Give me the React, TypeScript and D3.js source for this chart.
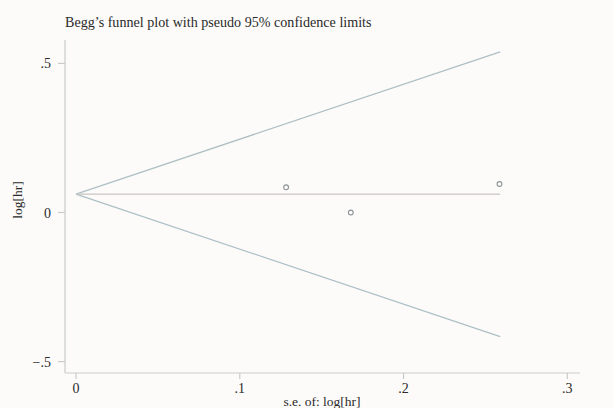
import React from "react";
import * as d3 from "d3";

const title = "Begg\u2019s funnel plot with pseudo 95% confidence limits";
const xTicks = [0, 0.1, 0.2, 0.3];
const xTickLabels = ["0", ".1", ".2", ".3"];
const yTicks = [0.5, 0, -0.5];
const yTickLabels = [".5", "0", "\u2212.5"];
const studySE = [0.1283, 0.1678, 0.2586];
const studyLogHR = [0.0845, 0.0, 0.0955];
const pooledLogHR = 0.0615;
const funnelSE = [0, 0.259];
const funnelUpper = [0.0615, 0.539];
const funnelLower = [0.0615, -0.416];

export default function App() {
  const x = d3.scaleLinear().domain([0, 0.3]).range([76, 567.3]);
  const y = d3.scaleLinear().domain([-0.5, 0.5]).range([361.6, 63.4]);
  const line = d3
    .line<[number, number]>()
    .x((d) => x(d[0]))
    .y((d) => y(d[1]));
  const upper = funnelSE.map((s, i) => [s, funnelUpper[i]] as [number, number]);
  const lower = funnelSE.map((s, i) => [s, funnelLower[i]] as [number, number]);
  const mid = funnelSE.map((s) => [s, pooledLogHR] as [number, number]);
  const axisColor = "#c9cbcb";
  const lineColor = "#aebfc6";
  const font = "'Liberation Serif', 'DejaVu Serif', serif";
  const textColor = "#2a2a2a";
  const axisY = 373;
  const axisX = 65;
  return (
    <svg
      width={613}
      height={408}
      style={{ position: "absolute", left: 0, top: 0, background: "#fcfbf9" }}
      fontFamily={font}
    >
      <rect x={0} y={0} width={613} height={408} fill="#fcfbf9" />
      <text x={65} y={27} fontSize={14.1} fill={textColor}>
        {title}
      </text>
      {/* axes */}
      <line x1={axisX} x2={axisX} y1={40} y2={axisY} stroke={axisColor} strokeWidth={1.2} />
      <line x1={axisX} x2={580} y1={axisY} y2={axisY} stroke={axisColor} strokeWidth={1.2} />
      {yTicks.map((t, i) => (
        <g key={"y" + i}>
          <line x1={axisX - 7} x2={axisX} y1={y(t)} y2={y(t)} stroke={axisColor} strokeWidth={1.2} />
          <text x={axisX - 14} y={y(t) + 5} fontSize={14} textAnchor="end" fill={textColor}>
            {yTickLabels[i]}
          </text>
        </g>
      ))}
      {xTicks.map((t, i) => (
        <g key={"x" + i}>
          <line x1={x(t)} x2={x(t)} y1={axisY} y2={axisY + 6} stroke={axisColor} strokeWidth={1.2} />
          <text x={x(t)} y={393} fontSize={14} textAnchor="middle" fill={textColor}>
            {xTickLabels[i]}
          </text>
        </g>
      ))}
      <text x={322} y={406} fontSize={13.5} textAnchor="middle" fill={textColor}>
        s.e. of: log[hr]
      </text>
      <text
        transform={`translate(22,200) rotate(-90)`}
        fontSize={13.5}
        textAnchor="middle"
        fill={textColor}
      >
        log[hr]
      </text>
      {/* funnel */}
      <path d={line(upper) || ""} fill="none" stroke={lineColor} strokeWidth={1.3} />
      <path d={line(lower) || ""} fill="none" stroke={lineColor} strokeWidth={1.3} />
      <path d={line(mid) || ""} fill="none" stroke="#c9c6c2" strokeWidth={1.3} />
      {studySE.map((s, i) => (
        <circle
          key={i}
          cx={x(s)}
          cy={y(studyLogHR[i])}
          r={2.4}
          fill="none"
          stroke="#8c9497"
          strokeWidth={1.1}
        />
      ))}
    </svg>
  );
}
